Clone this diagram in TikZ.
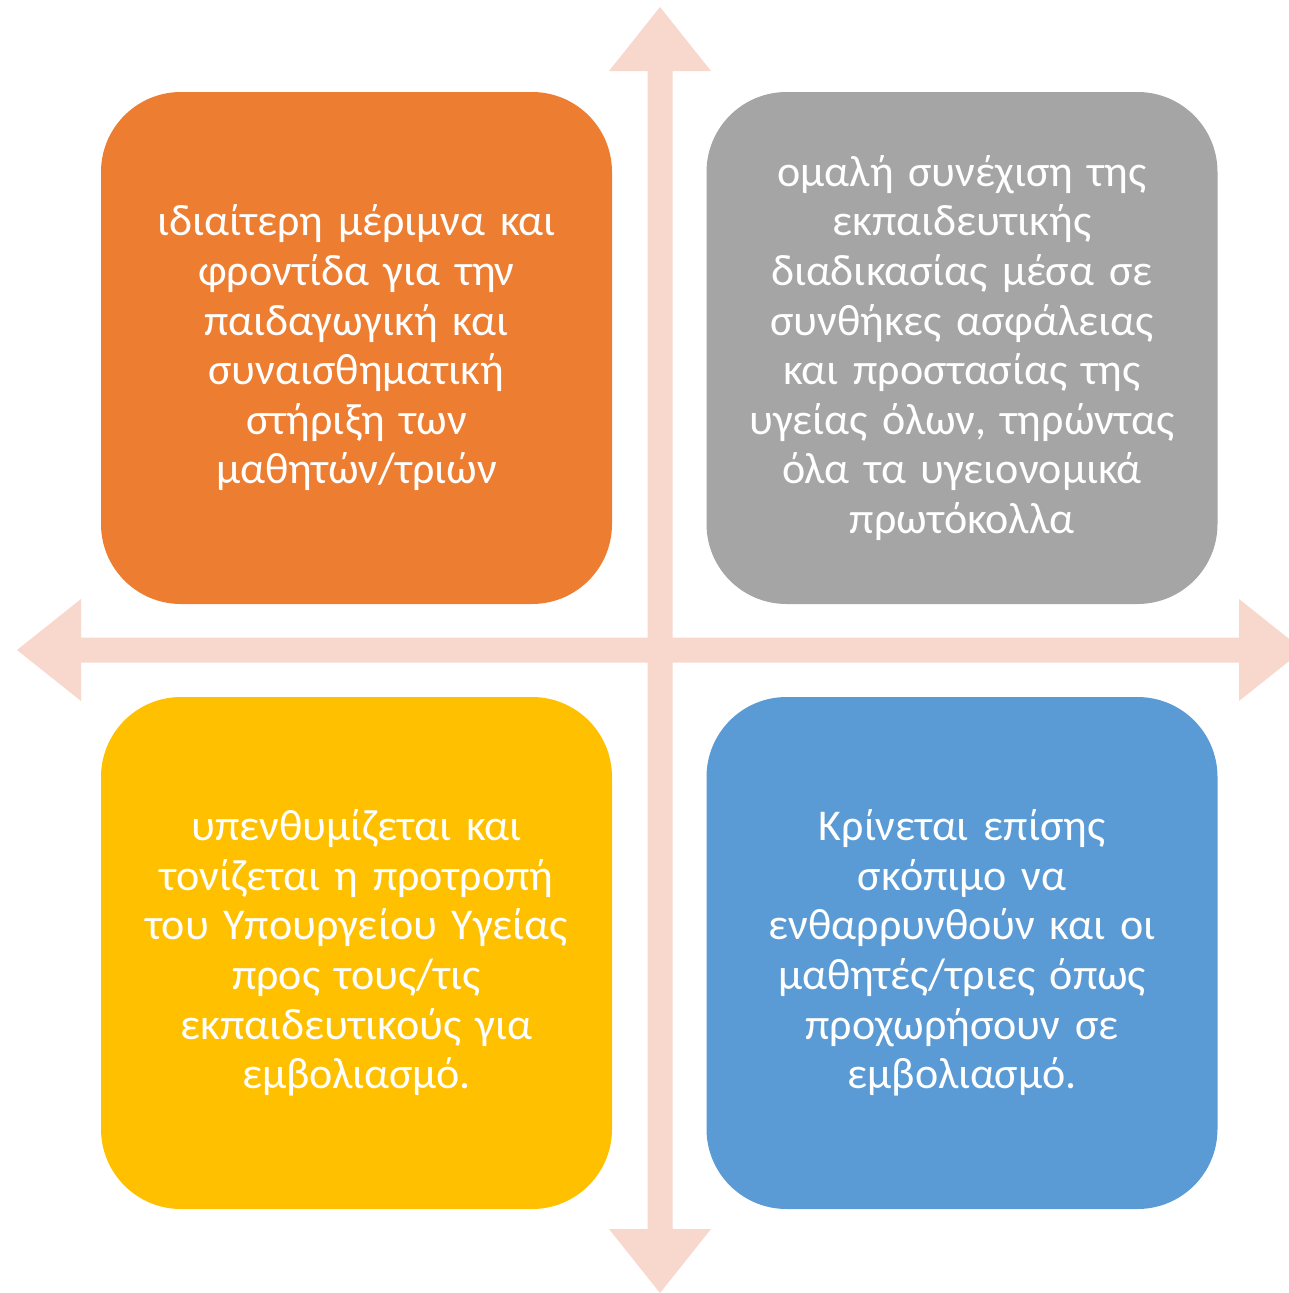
\documentclass[tikz,border=0pt]{standalone}
\usepackage{fontspec}
\setmainfont{Carlito}
\usetikzlibrary{calc}
\definecolor{crosspink}{HTML}{F8D7CC}
\definecolor{careorange}{HTML}{ED7D31}
\definecolor{safegray}{HTML}{A5A5A5}
\definecolor{remindyellow}{HTML}{FFC000}
\definecolor{vaccblue}{HTML}{5B9BD5}
\tikzset{
	quad/.style={rectangle, rounded corners=80pt, minimum width=511pt, minimum height=512pt,
		inner sep=0pt, text width=490pt, align=center, text=white,
		font=\fontsize{44}{49.6}\selectfont},
	arm/.style={fill=crosspink, draw=none}
}

\begin{document}
\begin{tikzpicture}[x=1pt, y=-1pt]
	\useasboundingbox (0,0) rectangle (1289,1293);
	\clip (0,0) rectangle (1289,1293);
	\coordinate (centre) at (660,650);
	\foreach \ang in {0,90,180,270} {
		\fill[arm, rotate around={\ang:(centre)}] ($(centre)+(-12.5,0)$) -- ($(centre)+(-12.5,-579)$)
		-- ($(centre)+(-51,-579)$) -- ($(centre)+(0,-643)$) -- ($(centre)+(51,-579)$)
		-- ($(centre)+(12.5,-579)$) -- ($(centre)+(12.5,0)$) -- cycle;
	}
	\node[quad, fill=careorange] (care) at (356.5,348) {ιδιαίτερη μέριμνα και\\ φροντίδα για την\\ παιδαγωγική και\\ συναισθηματική\\ στήριξη των\\ μαθητών/τριών};
	\node[quad, fill=safegray] (safety) at (962,348) {ομαλή συνέχιση της\\ εκπαιδευτικής\\ διαδικασίας μέσα σε\\ συνθήκες ασφάλειας\\ και προστασίας της\\ υγείας όλων, τηρώντας\\ όλα τα υγειονομικά\\ πρωτόκολλα};
	\node[quad, fill=remindyellow] (reminder) at (356.5,953) {υπενθυμίζεται και\\ τονίζεται η προτροπή\\ του Υπουργείου Υγείας\\ προς τους/τις\\ εκπαιδευτικούς για\\ εμβολιασμό.};
	\node[quad, fill=vaccblue] (vaccine) at (962,953) {Κρίνεται επίσης\\ σκόπιμο να\\ ενθαρρυνθούν και οι\\ μαθητές/τριες όπως\\ προχωρήσουν σε\\ εμβολιασμό.};
\end{tikzpicture}
\end{document}
